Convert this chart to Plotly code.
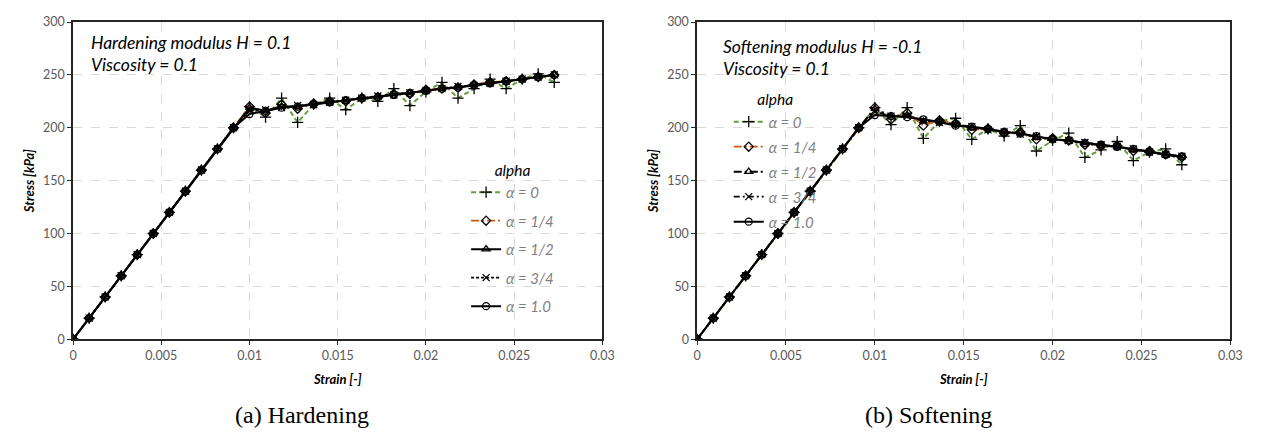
import plotly.graph_objects as go

# ---------------------------------------------------------------- data
strain = [0.0, 0.000909, 0.001818, 0.002727, 0.003636, 0.004545, 0.005455,
          0.006364, 0.007273, 0.008182, 0.009091, 0.010000, 0.010909,
          0.011818, 0.012727, 0.013636, 0.014545, 0.015455, 0.016364,
          0.017273, 0.018182, 0.019091, 0.020000, 0.020909, 0.021818,
          0.022727, 0.023636, 0.024545, 0.025455, 0.026364, 0.027273]

alpha_labels = ["α = 0", "α = 1/4", "α = 1/2", "α = 3/4", "α = 1.0"]

elastic = [0, 20, 40, 60, 80, 100, 120, 140, 160, 180, 200]

# hardening, H = 0.1
hard_a0 = elastic + [220, 210, 228, 205, 222, 228, 217, 228, 225, 237,
                     221, 234, 243, 228, 237, 246, 237, 246, 251, 243]
hard_a14 = elastic + [220, 214, 222, 218, 223, 225, 225, 228, 229, 232,
                      232, 236, 237, 238, 241, 243, 244, 246, 248, 250]
hard_a12 = elastic + [219, 216, 220, 220, 223, 224, 226, 228, 229, 232,
                      233, 235, 237, 238, 241, 242, 244, 246, 248, 250]
hard_a34 = elastic + [216, 217, 219, 221, 222, 224, 226, 228, 230, 231,
                      233, 235, 237, 239, 240, 242, 244, 246, 248, 250]
hard_a1 = elastic + [213, 216, 219, 220, 222, 224, 226, 228, 229, 231,
                     233, 235, 237, 238, 240, 242, 244, 246, 248, 250]

# softening, H = -0.1
soft_a0 = elastic + [219, 203, 219, 190, 206, 209, 189, 199, 192, 202,
                     178, 188, 195, 172, 179, 187, 169, 177, 180, 165]
soft_a14 = elastic + [219, 208, 214, 202, 207, 204, 198, 199, 195, 196,
                      189, 190, 188, 184, 183, 183, 178, 178, 175, 172]
soft_a12 = elastic + [218, 211, 212, 206, 206, 203, 200, 199, 196, 195,
                      191, 190, 187, 186, 183, 182, 179, 178, 174, 173]
soft_a34 = elastic + [215, 211, 211, 207, 205, 203, 201, 198, 196, 194,
                      192, 189, 188, 186, 184, 182, 180, 177, 175, 173]
soft_a1 = elastic + [212, 211, 210, 208, 205.5, 202, 201, 199, 196, 194.5,
                     192, 189, 188, 185.5, 184, 182, 180, 177, 174.5, 173]

hardening = [hard_a0, hard_a14, hard_a12, hard_a34, hard_a1]
softening = [soft_a0, soft_a14, soft_a12, soft_a34, soft_a1]

x_ticks = [0, 0.005, 0.01, 0.015, 0.02, 0.025, 0.03]
x_tick_text = ["0", "0.005", "0.01", "0.015", "0.02", "0.025", "0.03"]
y_ticks = [0, 50, 100, 150, 200, 250, 300]

# ---------------------------------------------------------------- styles
GREEN = "#6a9a3f"
ORANGE = "#c55a11"
BLACK = "#000000"
FONT = "Lato"

symbols = ["cross-thin-open", "diamond-open", "triangle-up-open",
           "x-thin-open", "circle-open"]
sizes = [8, 7, 7, 7, 7]
colors = [GREEN, ORANGE, BLACK, BLACK, BLACK]
dash_hard = ["5px,3px", "8px,3px,2px,3px", "solid", "3px,2px", "solid"]
dash_soft = ["5px,3px", "8px,3px,2px,3px", "8px,3px,2px,3px",
             "6px,3px,2px,3px", "solid"]
widths = [2, 1.8, 2, 1.8, 2]

fig = go.Figure()


def add_panel(series, dashes, xa, ya, legend):
    for k, ys in enumerate(series):
        fig.add_trace(go.Scatter(
            x=strain, y=ys, xaxis=xa, yaxis=ya,
            mode="lines+markers",
            name="<i>" + alpha_labels[k] + "</i>",
            legend=legend,
            legendgroup=legend + str(k),
            line=dict(color=colors[k], width=widths[k], dash=dashes[k]),
            marker=dict(symbol=symbols[k], size=sizes[k], color=BLACK,
                        line=dict(color=BLACK, width=1.3)),
        ))


add_panel(hardening, dash_hard, "x", "y", "legend")
add_panel(softening, dash_soft, "x2", "y2", "legend2")

W, H = 1267, 438


def px_x(p):
    return p / W


def px_y(p):
    return 1 - p / H


axis_common = dict(
    showline=True, mirror=True, linecolor="#262626", linewidth=1.5,
    showgrid=True, gridcolor="#d9d9d9", gridwidth=1, griddash="dash",
    zeroline=False, ticks="outside", ticklen=4, tickcolor="#262626",
    tickfont=dict(family=FONT, size=12.5, color="#595959"),
)

xa = dict(axis_common, range=[0, 0.03], tickvals=x_ticks,
          ticktext=x_tick_text,
          title=dict(text="<b><i>Strain [-]</i></b>", standoff=13,
                     font=dict(family=FONT, size=13, color="#000000")))
ya = dict(axis_common, range=[0, 300], tickvals=y_ticks,
          title=dict(text="<b><i>Stress [kPa]</i></b>", standoff=6,
                     font=dict(family=FONT, size=13, color="#000000")))

y_dom = [px_y(343), px_y(14.5)]

legend_common = dict(
    bgcolor="rgba(0,0,0,0)", borderwidth=0,
    font=dict(family=FONT, size=15, color="#7f7f7f"),
    itemwidth=30,
    xanchor="left", yanchor="top",
)
legend_title_font = dict(family=FONT, size=15.5, color="#000000")

text_font = dict(family=FONT, size=17.5, color="#000000")
caption_font = dict(family="Liberation Serif", size=24, color="#000000")

fig.update_layout(
    width=W, height=H,
    margin=dict(l=0, r=0, t=0, b=0),
    paper_bgcolor="white", plot_bgcolor="white",
    showlegend=True,
    xaxis=dict(xa, domain=[px_x(70), px_x(606)], anchor="y"),
    yaxis=dict(ya, domain=y_dom, anchor="x"),
    xaxis2=dict(xa, domain=[px_x(702), px_x(1242)], anchor="y2"),
    yaxis2=dict(ya, domain=y_dom, anchor="x2"),
    legend=dict(legend_common, x=px_x(468), y=px_y(153), tracegroupgap=6,
                title=dict(text="<i>alpha</i>", side="top center",
                           font=legend_title_font)),
    legend2=dict(legend_common, x=px_x(734), y=px_y(80), tracegroupgap=2.5,
                 title=dict(text="<i>alpha</i>", side="top center",
                            font=legend_title_font)),
    annotations=[
        dict(text="<i>Hardening modulus H = 0.1</i>", xref="paper",
             yref="paper", x=px_x(86), y=px_y(36), xanchor="left",
             yanchor="middle", showarrow=False, font=text_font),
        dict(text="<i>Viscosity = 0.1</i>", xref="paper", yref="paper",
             x=px_x(86), y=px_y(59), xanchor="left", yanchor="middle",
             showarrow=False, font=text_font),
        dict(text="<i>Softening modulus H = -0.1</i>", xref="paper",
             yref="paper", x=px_x(726), y=px_y(40), xanchor="left",
             yanchor="middle", showarrow=False, font=text_font),
        dict(text="<i>Viscosity = 0.1</i>", xref="paper", yref="paper",
             x=px_x(726), y=px_y(63), xanchor="left", yanchor="middle",
             showarrow=False, font=text_font),
        dict(text="(a) Hardening", xref="paper", yref="paper",
             x=px_x(302), y=px_y(421), xanchor="center", yanchor="middle",
             showarrow=False, font=caption_font),
        dict(text="(b) Softening", xref="paper", yref="paper",
             x=px_x(936), y=px_y(421), xanchor="center", yanchor="middle",
             showarrow=False, font=caption_font),
    ],
)

fig.write_html("out.html")
